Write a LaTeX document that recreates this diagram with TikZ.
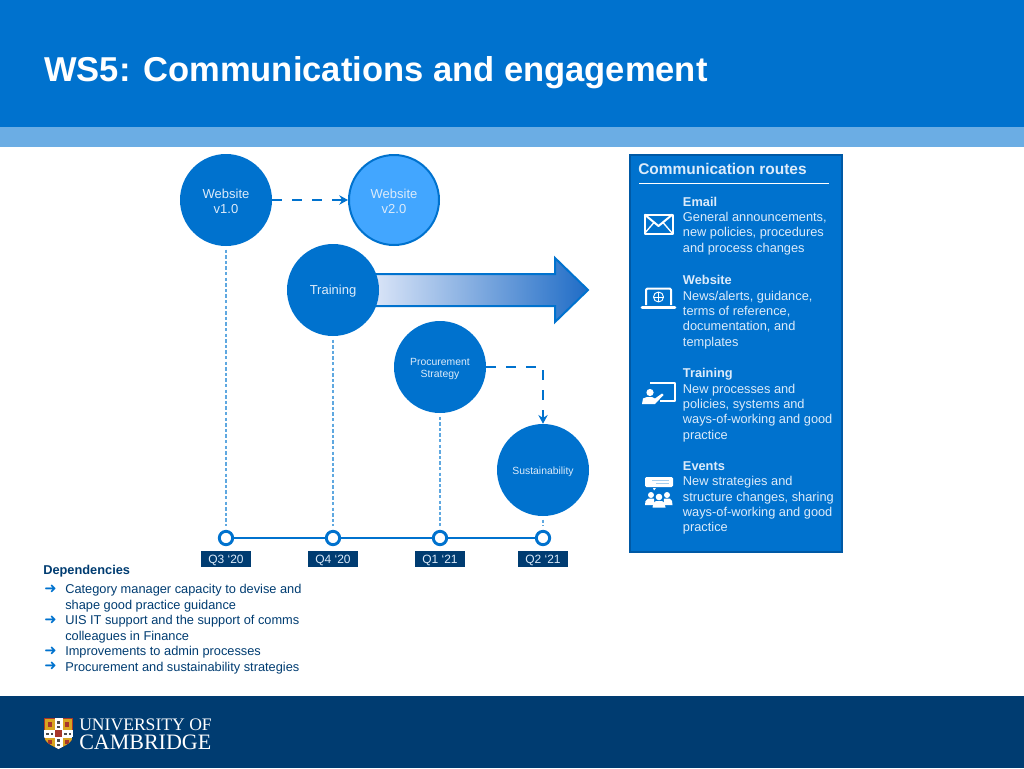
\documentclass[tikz,border=0pt]{standalone}
\usepackage{fontspec}
\setmainfont{Liberation Sans}
\newfontfamily\serifpart{Liberation Serif}
\newfontfamily\symbolpart{DejaVu Sans}
\usetikzlibrary{arrows.meta}
\definecolor{camblue}{HTML}{0072CE}
\definecolor{camedge}{HTML}{0059A5}
\definecolor{camstrip}{HTML}{6BADE4}
\definecolor{camnavy}{HTML}{003C71}
\definecolor{camsky}{HTML}{42A6FF}
\definecolor{camtext}{HTML}{DCEBFA}
\definecolor{camdots}{HTML}{5FA8E0}
\definecolor{camgold}{HTML}{D9A520}
\definecolor{camred}{HTML}{A8362A}
\definecolor{arrowpale}{HTML}{DCE6F8}
\definecolor{arrowdeep}{HTML}{1F6CC6}
\tikzset{
	bubble/.style={circle,fill=camblue,text=camtext,minimum size=69pt,inner sep=0pt,align=center,font=\fontsize{9.75}{11.6}\selectfont},
	smallbubble/.style={bubble,font=\fontsize{7.8}{9.4}\selectfont},
	timetick/.style={circle,draw=camblue,fill=white,line width=2.2pt,minimum size=10pt,inner sep=0pt},
	qlabel/.style={fill=camnavy,text=camtext,minimum width=37.5pt,minimum height=11.5pt,inner sep=0pt,text height=8pt,font=\fontsize{9}{10}\selectfont},
	routetext/.style={anchor=north west,inner sep=0pt,align=left,text=camtext,font=\fontsize{9.6}{11.6}\selectfont},
	deptext/.style={anchor=north west,inner sep=0pt,align=left,text=camnavy,font=\fontsize{9.6}{11.6}\selectfont},
	depbullet/.style={anchor=center,inner sep=0pt,text=camblue,font=\symbolpart\fontsize{11}{12}\selectfont},
	dashlink/.style={draw=camblue,line width=2.2pt,dash pattern=on 7.5pt off 7.5pt,-{Stealth[length=6.5pt,width=7pt]}},
	droplink/.style={draw=camdots,line width=1pt,dash pattern=on 2.6pt off 1.6pt,shorten >=3pt,shorten <=2.5pt},
	icon/.style={draw=white,line width=1.5pt,line join=round},
	iconfill/.style={fill=white,draw=none}
}
\begin{document}
\begin{tikzpicture}[x=0.75pt,y=-0.75pt]
	\useasboundingbox (0,0) rectangle (1024,768);
	% bands
	\fill [camblue] (0,0) rectangle (1024,127);
	\fill [camstrip] (0,127) rectangle (1024,147);
	\fill [camnavy] (0,696) rectangle (1024,768);
	\node [anchor=base west,inner sep=0pt,text=white,font=\fontsize{25.9}{30}\selectfont\bfseries] (heading) at (44,81) {WS5: Communications and engagement};

	% arrow behind the training circle
	\draw [draw=camblue,line width=1.5pt,left color=arrowpale,right color=arrowdeep] (372,274) -- (555,274) -- (555,258) -- (588,290) -- (555,322) -- (555,306) -- (372,306) -- cycle;

	% circles
	\node [bubble,text height=21pt] (webone) at (226,200) {Website\\v1.0};
	\node [bubble,text height=21pt,fill=camsky,draw=camblue,line width=1.5pt,minimum size=67.5pt] (webtwo) at (394,200) {Website\\v2.0};
	\node [bubble,text height=9pt] (training) at (333,290) {Training};
	\node [smallbubble,text height=18pt] (procure) at (440,367) {Procurement\\Strategy};
	\node [smallbubble,text height=9pt] (sustain) at (543,470) {Sustainability};

	% timeline
	\node [timetick] (qa) at (226,538) {};
	\node [timetick] (qb) at (333,538) {};
	\node [timetick] (qc) at (440,538) {};
	\node [timetick] (qd) at (543,538) {};
	\draw [camblue,line width=2.2pt] (qa) -- (qb);
	\draw [camblue,line width=2.2pt] (qb) -- (qc);
	\draw [camblue,line width=2.2pt] (qc) -- (qd);
	\draw [droplink] (webone) -- (qa);
	\draw [droplink] (training) -- (qb);
	\draw [droplink] (procure) -- (qc);
	\draw [droplink] (sustain) -- (qd);
	\node [qlabel] (qlabela) at (226,559) {Q3 ‘20};
	\node [qlabel] (qlabelb) at (333,559) {Q4 ‘20};
	\node [qlabel] (qlabelc) at (440,559) {Q1 ‘21};
	\node [qlabel] (qlabeld) at (543,559) {Q2 ‘21};

	% dashed links
	\draw [dashlink] (webone) -- (webtwo);
	\draw [dashlink] (procure.east) -| (sustain.north);

	% routes panel
	\draw [fill=camblue,draw=camedge,line width=1.5pt] (630,155) rectangle (842,552);
	\node [anchor=base west,inner sep=0pt,text=camtext,font=\fontsize{11.6}{14}\selectfont\bfseries] (routes) at (638,174) {Communication routes};
	\coordinate (rulea) at (639,183);
	\coordinate (ruleb) at (829,183);
	\draw [white,line width=0.6pt] (rulea) -- (ruleb);
	\node [routetext] (email) at (682.7,196.5) {\textbf{Email}\\General announcements,\\new policies, procedures\\and process changes};
	\node [routetext] (website) at (682.7,275) {\textbf{Website}\\News/alerts, guidance,\\terms of reference,\\documentation, and\\templates};
	\node [routetext] (course) at (682.7,368) {\textbf{Training}\\New processes and\\policies, systems and\\ways-of-working and good\\practice};
	\node [routetext] (events) at (682.7,461) {\textbf{Events}\\New strategies and\\structure changes, sharing\\ways-of-working and good\\practice};

	% email icon
	\draw [icon] (644.5,214.5) rectangle (672.5,233.5);
	\draw [icon] (644.5,214.5) -- (658.5,226) -- (672.5,214.5);
	\draw [icon,line width=1pt] (644.5,233.5) -- (654,222.5);
	\draw [icon,line width=1pt] (672.5,233.5) -- (663,222.5);
	% laptop icon
	\draw [icon,rounded corners=1pt] (646,305) -- (646,288.5) -- (671,288.5) -- (671,305);
	\draw [icon,line width=2pt,line cap=round] (642,307.5) -- (675,307.5);
	\draw [icon,line width=0.7pt] (658.5,297) circle (5);
	\draw [icon,line width=0.5pt] (653.5,297) -- (663.5,297);
	\draw [icon,line width=0.5pt] (658.5,292) -- (658.5,302);
	% training icon
	\draw [icon] (650,382.5) -- (674.5,382.5) -- (674.5,400.5) -- (660,400.5);
	\fill [iconfill] (650,392.5) circle (3.6);
	\fill [iconfill] (642,404) -- (643,398.5) -- (647,397) -- (652,397) -- (655,398.5) -- (662,393.5) -- (663.5,395) -- (655,404) -- cycle;
	% events icon
	\fill [iconfill,rounded corners=1pt] (645,477) rectangle (673,487);
	\draw [camblue!35!white,line width=0.6pt] (652,480) -- (669,480);
	\draw [camblue!35!white,line width=0.6pt] (656,483) -- (669,483);
	\fill [iconfill] (653,488) -- (656,488) -- (654,490.5) -- cycle;
	\fill [iconfill] (651,495) circle (3);
	\fill [iconfill] (667,495) circle (3);
	\fill [iconfill] (659,497) circle (3.3);
	\fill [iconfill] (645,505) -- (645.5,501) -- (648,498.7) -- (654,498.7) -- (654.5,505) -- cycle;
	\fill [iconfill] (672.5,505) -- (672,501) -- (670,498.7) -- (664,498.7) -- (663.5,505) -- cycle;
	\fill [iconfill] (652.5,507.5) -- (653.5,503) -- (656,501) -- (662,501) -- (664.5,503) -- (665.5,507.5) -- cycle;

	% dependencies
	\node [anchor=base west,inner sep=0pt,text=camnavy,font=\fontsize{9.6}{11.6}\selectfont\bfseries] (deps) at (43,574) {Dependencies};
	\node [deptext] (depa) at (65,584.2) {Category manager capacity to devise and\\shape good practice guidance};
	\node [deptext] (depb) at (65,615.2) {UIS IT support and the support of comms\\colleagues in Finance};
	\node [deptext] (depc) at (65,646.2) {Improvements to admin processes};
	\node [deptext] (depd) at (65,661.7) {Procurement and sustainability strategies};
	\node [depbullet] (bula) at (50.5,589.5) {➜};
	\node [depbullet] (bulb) at (50.5,620.5) {➜};
	\node [depbullet] (bulc) at (50.5,651.5) {➜};
	\node [depbullet] (buld) at (50.5,666.5) {➜};

	% logo
	\begin{scope}
		\clip (44,718) -- (73,718) -- (73,735) .. controls (73,743) and (64,746) .. (58.5,749) .. controls (53,746) and (44,743) .. (44,735) -- cycle;
		\fill [camred] (44,718) rectangle (73,750);
		\fill [camgold] (45,719) rectangle (54.5,729.5);
		\fill [camgold] (62.5,719) rectangle (72,729.5);
		\fill [camgold] (45,737.5) rectangle (54.5,750);
		\fill [camgold] (62.5,737.5) rectangle (72,750);
		\fill [white] (54.5,718) rectangle (62.5,750);
		\fill [white] (44,729.5) rectangle (73,737.5);
		\fill [camred] (55,730) rectangle (62,737);
		\fill [camred] (48,722) rectangle (52,727);
		\fill [camred] (65,722) rectangle (69,727);
		\fill [camred] (48,740) rectangle (52,744);
		\fill [camred] (65,740) rectangle (69,744);
		\fill [black!70] (57,721) rectangle (60,723.5);
		\fill [black!70] (57,725.5) rectangle (60,728);
		\fill [black!70] (57,739) rectangle (60,741.5);
		\fill [black!70] (57,743.5) rectangle (60,746);
		\fill [black!70] (46,732.5) rectangle (48.5,735);
		\fill [black!70] (50.5,732.5) rectangle (53,735);
		\fill [black!70] (64,732.5) rectangle (66.5,735);
		\fill [black!70] (68.5,732.5) rectangle (71,735);
	\end{scope}
	\node [anchor=base west,inner sep=0pt,text=white,font=\serifpart\fontsize{13.2}{14}\selectfont] (univ) at (79,730) {UNIVERSITY OF};
	\node [anchor=base west,inner sep=0pt,text=white,font=\serifpart\fontsize{16.5}{18}\selectfont] (camb) at (79,749) {CAMBRIDGE};
\end{tikzpicture}
\end{document}
